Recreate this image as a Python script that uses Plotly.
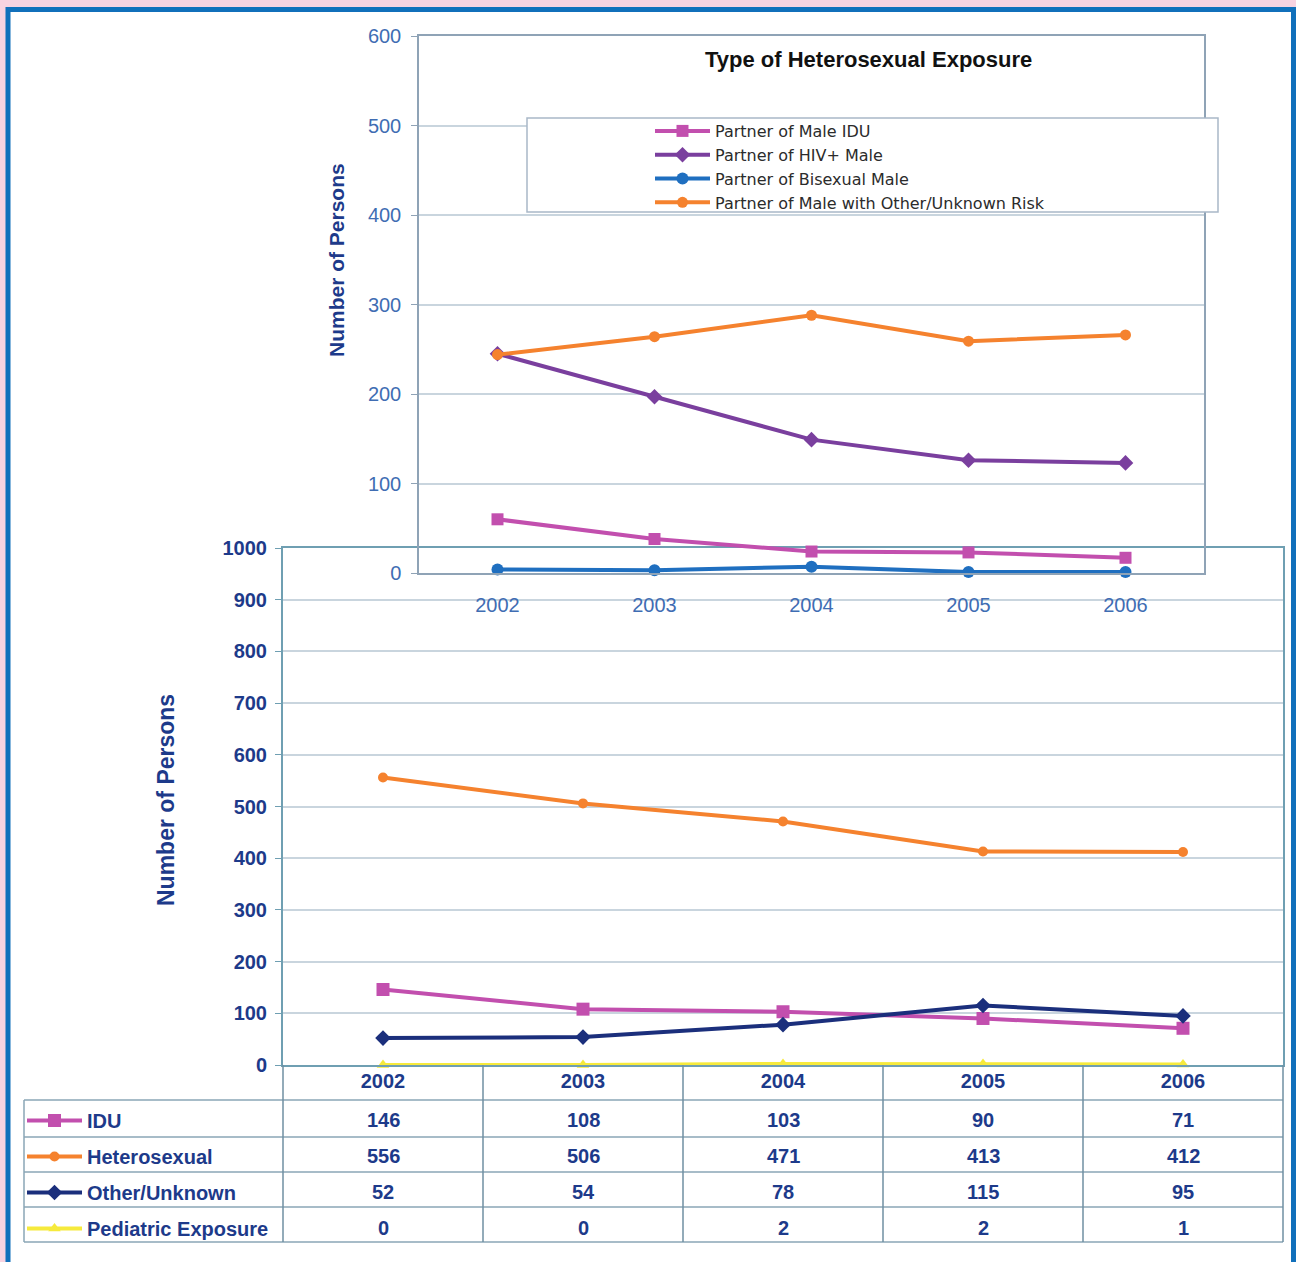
import plotly.graph_objects as go

W, H = 1296, 1262

# ---- data -------------------------------------------------------------
years = ["2002", "2003", "2004", "2005", "2006"]

# main chart: persons by exposure category
idu = [146, 108, 103, 90, 71]
heterosexual = [556, 506, 471, 413, 412]
other_unknown = [52, 54, 78, 115, 95]
pediatric = [0, 0, 2, 2, 1]

# inset: type of heterosexual exposure
partner_male_idu = [60, 38, 24, 23, 17]
partner_hiv_male = [245, 197, 149, 126, 123]
partner_bisexual_male = [4, 3, 7, 1, 1]
partner_other_risk = [244, 264, 288, 259, 266]

main_names = ["IDU", "Heterosexual", "Other/Unknown", "Pediatric Exposure"]
inset_names = ["Partner of Male IDU", "Partner of HIV+ Male",
               "Partner of Bisexual Male", "Partner of Male with Other/Unknown Risk"]

# ---- styling ----------------------------------------------------------
FONT = "Arial, Liberation Sans, sans-serif"
WIDE = "DejaVu Sans, Verdana, sans-serif"
NAVY = "#1d3a8a"
TICKBLUE = "#3f6db3"
FRAME_BLUE = "#1170bb"
PINK_BG = "#f8d3e1"
PLOT_EDGE = "#6f9fb2"
GRID = "#c9d5de"
INSET_EDGE = "#8fa3b6"

C_IDU = "#c24fae"
C_HET = "#f5822e"
C_OTH = "#1b2f7c"
C_PED = "#f6ea3c"
C_PURPLE = "#7a3f9e"
C_BLUE = "#1f6fc0"


def px(x):
    return x / W


def py(y):
    return 1 - y / H


fig = go.Figure()

# main chart series
main_series = [
    (idu, C_IDU, "square", 13),
    (heterosexual, C_HET, "circle", 10),
    (other_unknown, C_OTH, "diamond", 12),
    (pediatric, C_PED, "triangle-up", 11),
]
for name, (vals, col, sym, size) in zip(main_names, main_series):
    fig.add_trace(go.Scatter(
        x=years, y=vals, name=f"<b>{name}</b>", mode="lines+markers",
        line=dict(color=col, width=4), marker=dict(symbol=sym, size=size, color=col),
        xaxis="x", yaxis="y", legend="legend", legendgroup=name, cliponaxis=False,
    ))

# inset series
inset_series = [
    (partner_male_idu, C_IDU, "square", 12),
    (partner_hiv_male, C_PURPLE, "diamond", 12),
    (partner_bisexual_male, C_BLUE, "circle", 12),
    (partner_other_risk, C_HET, "circle", 11),
]
for name, (vals, col, sym, size) in zip(inset_names, inset_series):
    fig.add_trace(go.Scatter(
        x=years, y=vals, name=name, mode="lines+markers",
        line=dict(color=col, width=4), marker=dict(symbol=sym, size=size, color=col),
        xaxis="x2", yaxis="y2", legend="legend2", cliponaxis=False,
    ))

shapes = [
    # page frame
    dict(type="rect", xref="paper", yref="paper", x0=0, x1=1, y0=0, y1=1,
         fillcolor=PINK_BG, line=dict(width=0), layer="below"),
    dict(type="rect", xref="paper", yref="paper", x0=px(8), x1=px(1293.5),
         y0=py(1275), y1=py(9.5), fillcolor="white",
         line=dict(color=FRAME_BLUE, width=5), layer="below"),
    # inset legend box
    dict(type="rect", xref="paper", yref="paper", x0=px(527), x1=px(1218),
         y0=py(212), y1=py(118), fillcolor="white",
         line=dict(color="#a9b8c8", width=1.5), layer="above"),
]

# data table grid under the main chart
row_lines = [1100, 1137, 1172, 1207, 1242]
for yy in row_lines:
    shapes.append(dict(type="line", xref="paper", yref="paper", x0=px(24), x1=px(1283),
                       y0=py(yy), y1=py(yy), line=dict(color="#8aa6b6", width=1.5)))
shapes.append(dict(type="line", xref="paper", yref="paper", x0=px(24), x1=px(24),
                   y0=py(1100), y1=py(1242), line=dict(color="#8aa6b6", width=1.5)))
for xx in [283, 483, 683, 883, 1083, 1283]:
    shapes.append(dict(type="line", xref="paper", yref="paper", x0=px(xx), x1=px(xx),
                       y0=py(1065), y1=py(1242), line=dict(color="#6f8fa2", width=1.5)))

annotations = [
    dict(text="<b>Type of Heterosexual Exposure</b>", xref="paper", yref="paper",
         x=px(868), y=py(60), xanchor="center", yanchor="middle", showarrow=False,
         font=dict(family=FONT, size=22, color="#111111")),
    dict(text="<b>Number of Persons</b>", xref="paper", yref="paper", x=px(336), y=py(260),
         xanchor="center", yanchor="middle", textangle=-90, showarrow=False,
         font=dict(family=FONT, size=21, color=NAVY)),
    dict(text="<b>Number of Persons</b>", xref="paper", yref="paper", x=px(166), y=py(800),
         xanchor="center", yanchor="middle", textangle=-90, showarrow=False,
         font=dict(family=FONT, size=23, color=NAVY)),
]

# table values, placed on the category axis
row_centers = [1120, 1156, 1192, 1228]
for vals, yc in zip([idu, heterosexual, other_unknown, pediatric], row_centers):
    for i, v in enumerate(vals):
        annotations.append(dict(text=f"<b>{v}</b>", xref="x", yref="paper", x=i, y=py(yc),
                                xanchor="center", yanchor="middle", showarrow=False,
                                font=dict(family=FONT, size=20, color=NAVY)))

fig.update_layout(
    width=W, height=H, autosize=False,
    margin=dict(l=0, r=0, t=0, b=0, autoexpand=False),
    paper_bgcolor="white", plot_bgcolor="rgba(0,0,0,0)",
    font=dict(family=FONT),
    shapes=shapes, annotations=annotations,
    xaxis=dict(domain=[px(283), px(1283)], anchor="y", type="category", range=[-0.5, 4.5],
               showgrid=False, showline=True, linecolor=PLOT_EDGE, linewidth=2, mirror=True,
               ticks="", tickfont=dict(family=FONT, size=20, color=NAVY),
               tickprefix="<b>", ticksuffix="</b>", ticklabelstandoff=-3),
    yaxis=dict(domain=[py(1065), py(548)], anchor="x", range=[0, 1000], dtick=100,
               showgrid=True, gridcolor=GRID, gridwidth=1.5, zeroline=False,
               showline=True, linecolor=PLOT_EDGE, linewidth=2, mirror=True,
               ticks="outside", ticklen=6, tickcolor=PLOT_EDGE,
               tickfont=dict(family=FONT, size=20, color=NAVY),
               tickprefix="<b>", ticksuffix="</b>", ticklabelstandoff=4),
    xaxis2=dict(domain=[px(419), px(1204)], anchor="y2", type="category", range=[-0.5, 4.5],
                showgrid=False, showline=True, linecolor=INSET_EDGE, linewidth=1.5, mirror=True,
                ticks="", tickfont=dict(family=FONT, size=20, color=TICKBLUE),
                ticklabelstandoff=13),
    yaxis2=dict(domain=[py(573), py(36)], anchor="x2", range=[0, 600], dtick=100,
                showgrid=True, gridcolor=GRID, gridwidth=1.5, zeroline=False,
                showline=True, linecolor=INSET_EDGE, linewidth=1.5, mirror=True,
                ticks="outside", ticklen=6, tickcolor=INSET_EDGE,
                tickfont=dict(family=FONT, size=20, color=TICKBLUE), ticklabelstandoff=6),
    legend=dict(x=px(22), y=py(1101), xanchor="left", yanchor="top",
                bgcolor="rgba(0,0,0,0)", borderwidth=0, itemwidth=55,
                tracegroupgap=7, font=dict(family=FONT, size=20, color=NAVY),
                itemclick=False, itemdoubleclick=False),
    legend2=dict(x=px(650), y=py(114), xanchor="left", yanchor="top",
                 bgcolor="rgba(0,0,0,0)", borderwidth=0, itemwidth=55,
                 font=dict(family=WIDE, size=16, color="#2b2b2b"),
                 itemclick=False, itemdoubleclick=False),
    showlegend=True,
)

fig.write_html("out.html")
